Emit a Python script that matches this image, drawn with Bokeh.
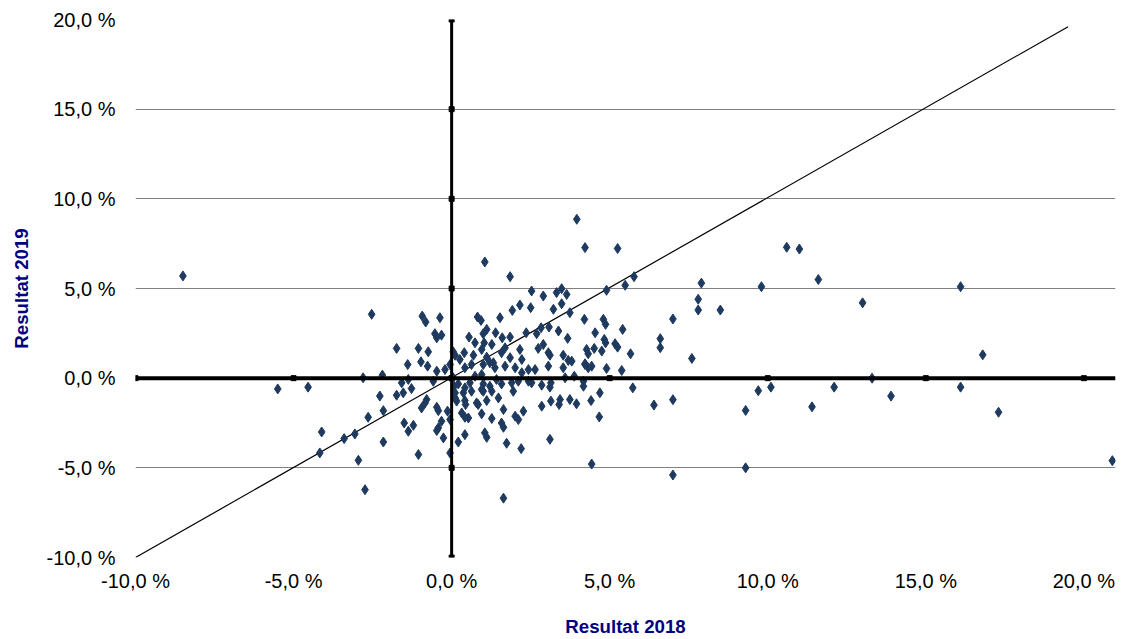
from bokeh.plotting import figure
from bokeh.models import Range1d, Span, CustomJSTickFormatter, FixedTicker
from bokeh.embed import file_html
from bokeh.resources import INLINE

x2018 = [-8.5, -5.5, 3.96, 4.22, 5.25, 1.05, 1.85, 5.77, 5.49, 4.9, 2.53, 2.9, 3.32, 3.48, 3.64,
         -2.53, -0.93, -0.82, -0.37, 0.82, 0.93, 1.53, 1.92, 2.16, 2.5, 3.22, 3.48, 3.74, 4.2, 4.8, 4.87, 5.41,
         -0.53, -0.32, -0.47, 1.11, 1.0, 1.39, 0.55, 0.74, 1.03, 1.27, 1.6, 1.85, 1.69,
         2.36, 2.69, 2.83, 3.08, 3.38, 3.67, 4.54, 4.83, 4.87, 5.17, 5.25, 5.66, 4.27, 4.51, 4.75, 4.32,
         -1.74, -1.05, -0.74, 0.05, 0.11, 0.4, 0.69, 0.95, 1.11, 1.32, 1.58, 1.85, 2.16, 2.22,
         2.74, 2.9, 3.06, 3.11, 3.53, 3.69, 4.22, 4.32,
         -1.39, -0.97, -0.76, -0.47, -0.21, -0.05,
         0.26, 0.42, 0.63, 1.0, 1.21, 1.37, 1.69, 2.01, 2.22, 2.43, 2.64, 3.06, 3.53, 3.8, 4.22, 4.43, 4.9, 5.38,
         -2.8, -2.19, -4.54, -1.58, -1.37, -1.27, -1.53, -1.74,
         -0.58, 0.05, 0.08, 0.21, 0.42, 0.58, 0.74, 0.95, 1.0, 1.21, 1.42, 1.58, 1.9, 2.11, 2.43, 2.53, 2.85,
         3.14, 3.11, 3.59, 3.88, 4.17, 4.17, 4.69, 5.73,
         0.11, 0.37, 0.63, 0.95, 1.0, 1.27, 1.95, 1.48,
         -2.27, -0.79, -0.84, -0.95, -2.16, -2.64,
         -0.47, -0.42, -0.13, 0.11, 0.16, 0.42, 0.44, 0.79, 1.11, 0.84,
         0.95, 1.27, 1.64, 2.01, 2.11, 2.27, 2.85, 3.14, 3.4, 3.43, 3.74, 3.95, 4.41, 4.67,
         0.32, 0.53, 0.42, -0.05, -0.32, -0.42, -0.47, -0.26, -0.05,
         -1.5, -1.37, -1.21, -2.16, 0.21, 0.42, 1.05, 1.11, 1.58, 1.64, 1.74, 2.2, 3.11,
         -4.11, -3.4, -3.06, -4.17, -2.95, -1.05, -2.74, 1.64, 4.43,
         6.4, 6.6, 6.6, 7.0, 7.0, 7.0, 7.6, 7.8, 7.8, 7.9, 8.5, 9.3, 9.3, 9.7, 9.8, 10.1,
         10.6, 11.0, 11.4, 11.6, 12.1, 13.0, 13.3, 13.9, 16.1, 16.1, 16.8, 17.3, 20.9]
y2019 = [5.7, -0.6, 8.86, 7.28, 7.23, 6.48, 5.66, 5.66, 5.18, 4.9, 4.86, 4.58, 4.77, 4.99, 4.67,
         3.56, 3.46, 3.13, 3.37, 3.41, 3.22, 3.37, 3.78, 4.08, 3.93, 3.84, 4.15, 3.65, 3.28, 3.28, 3.0, 2.72,
         2.48, 2.4, 2.25, 2.72, 2.48, 2.53, 2.29, 1.97, 1.97, 1.88, 2.25, 2.29, 1.69,
         2.53, 2.48, 2.81, 2.85, 2.63, 2.22, 2.53, 2.16, 1.97, 1.92, 1.73, 1.36, 1.6, 1.66, 1.51, 1.36,
         1.66, 1.66, 1.47, 1.47, 1.28, 1.42, 1.28, 1.6, 1.17, 0.86, 1.42, 1.14, 1.6, 1.04,
         1.66, 1.88, 1.42, 1.28, 1.28, 0.99, 0.8, 0.58,
         0.76, 0.91, 0.67, 0.39, 0.48, 0.76,
         1.04, 0.58, 0.76, 0.76, 0.86, 0.58, 0.67, 0.58, 0.3, 0.48, 0.48, 0.67, 0.58, 0.95, 0.76, 0.67, 0.54, 0.43,
         0.02, 0.17, -0.5, -0.26, -0.07, -0.58, -0.82, -0.95,
         -0.17, 0.02, -0.45, -0.32, -0.54, -0.26, 0.11, 0.2, -0.32, -0.45, -0.07, -0.32, -0.26, -0.17, -0.17, -0.26, -0.39,
         -0.26, -0.5, 0.02, 0.11, -0.17, -0.45, -0.82, -0.54,
         -0.82, -0.82, -0.73, -0.63, -0.73, -0.73, -0.73, -1.1,
         -1.0, -1.19, -1.38, -1.66, -1.81, -2.18,
         -1.62, -1.81, -1.84, -1.1, -1.28, -1.25, -1.47, -1.38, -1.25, -1.47,
         -1.99, -2.25, -1.75, -2.12, -2.31, -1.84, -1.56, -1.28, -1.47, -1.19, -1.19, -1.43, -1.25, -2.16,
         -1.94, -2.22, -2.18, -2.31, -2.4, -2.77, -2.92, -3.33, -4.17,
         -2.5, -2.96, -2.63, -3.56, -3.56, -3.15, -3.05, -3.3, -2.5, -2.74, -3.63, -3.93, -3.41,
         -3.0, -3.37, -3.11, -4.17, -4.58, -4.26, -6.22, -6.69, -4.79,
         -1.5, 1.7, 2.2, 3.3, -1.2, -5.4, 1.1, 3.8, 4.4, 5.3, 3.8, -1.8, -5.0, -0.7, 5.1, -0.5,
         7.3, 7.2, -1.6, 5.5, -0.5, 4.2, 0.0, -1.0, 5.1, -0.5, 1.3, -1.9, -4.6]

diag_x = [-10, 19.5]
diag_y = [-10, 19.6]
ticks = [-10, -5, 0, 5, 10, 15, 20]

navy = "#000080"
p = figure(width=1118, height=639, output_backend="svg", toolbar_location=None,
           x_range=Range1d(-10, 21.0), y_range=Range1d(-10, 20),
           min_border_left=135, min_border_right=3, min_border_top=19, min_border_bottom=10)
p.outline_line_color = None
p.xgrid.grid_line_color = None
p.ygrid.grid_line_color = "#808080"
p.ygrid.ticker = FixedTicker(ticks=ticks)

fmt = CustomJSTickFormatter(code="return tick.toFixed(1).replace('.', ',') + ' %';")
for ax in (p.xaxis[0], p.yaxis[0]):
    ax.ticker = FixedTicker(ticks=ticks)
    ax.formatter = fmt
    ax.axis_line_color = None
    ax.major_tick_line_color = None
    ax.minor_tick_line_color = None
    ax.major_label_text_font = "Liberation Sans"
    ax.major_label_text_font_size = "15pt"
    ax.major_label_text_color = "black"
    ax.axis_label_text_font = "Liberation Sans"
    ax.axis_label_text_font_size = "14pt"
    ax.axis_label_text_font_style = "bold"
    ax.axis_label_text_color = navy
p.xaxis.axis_label = "Resultat 2018"
p.yaxis.axis_label = "Resultat 2019"
p.xaxis.major_label_standoff = 6
p.xaxis.axis_label_standoff = 21
p.yaxis.major_label_standoff = 14
p.yaxis.axis_label_standoff = 12

p.add_layout(Span(location=0, dimension="width", line_color="black", line_width=4))
p.add_layout(Span(location=0, dimension="height", line_color="black", line_width=3))
# little tick marks on the zero axes
p.scatter(ticks, [0] * len(ticks), marker="square", size=5, color="black")
p.scatter([0] * len(ticks), ticks, marker="square", size=5, color="black")

p.line(diag_x, diag_y, line_color="black", line_width=1.2)
p.scatter(x2018, y2019, marker="diamond", size=10, color="#1f3a5f")

open("out.html", "w").write(file_html(p, INLINE))
